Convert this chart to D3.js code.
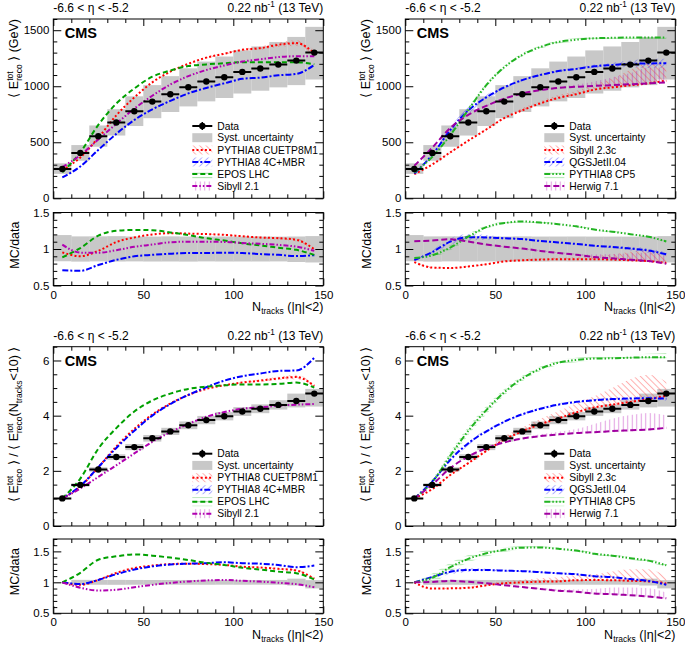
<!DOCTYPE html>
<html><head><meta charset="utf-8">
<script src="https://cdn.jsdelivr.net/npm/d3@7"></script>
<style>body{margin:0;background:#fff}svg text{font-family:'Liberation Sans',Arial,Helvetica,sans-serif}</style>
</head><body><svg id="c" width="685" height="646"></svg>
<script>
// ---------------- DATA ----------------
const nTracks = [5,15,25,35,45,55,65,75,85,95,105,115,125,135,145];
const binLo   = [0,10,20,30,40,50,60,70,80,90,100,110,120,130,140];
const binHi   = [10,20,30,40,50,60,70,80,90,100,110,120,130,140,150];
const xTicks = [0,50,100,150];
const absYTicks = [0,500,1000,1500];
const normYTicks = [0,2,4,6];
const ratioTicks = [0.5,1,1.5];

// <E_reco^tot> (GeV)
const dataAbs    = [262,405,554,676,777,863,929,991,1042,1080,1128,1158,1193,1229,1300];
const systAbsLo  = [218,335,460,560,645,715,770,820,865,895,935,960,990,1010,1060];
const systAbsHi  = [312,475,650,795,910,1010,1090,1160,1220,1265,1320,1355,1395,1440,1530];

const cuetp8m1Abs    = [250,365,540,740,900,1035,1130,1200,1255,1290,1325,1340,1370,1385,1295];
const cuetp8m1AbsErr = [0,0,0,0,0,0,0,0,5,8,10,15,20,25,25];
const mbr4cAbs       = [186,284,432,575,699,794,869,936,985,1026,1066,1077,1098,1110,1190];
const eposAbs        = [232,410,655,845,980,1085,1140,1180,1195,1205,1215,1215,1215,1215,1195];
const sibyll21Abs    = [278,385,525,665,800,915,1015,1090,1145,1185,1220,1240,1260,1268,1268];

const sibyll23cAbs      = [215,302,410,514,614,716,785,847,896,929,970,990,1008,1026,1050];
const sibyll23cAbsErrUp = [0,5,5,5,10,15,20,20,25,30,50,80,140,180,140];
const sibyll23cAbsErrDn = [0,5,5,5,5,5,5,5,5,5,5,5,5,5,5];
const qgsjetAbs         = [222,388,610,785,900,990,1055,1100,1135,1155,1178,1190,1200,1203,1205];
const qgsjetAbsErr      = [0,10,25,30,25,15,10,10,10,10,15,20,30,40,40];
const cp5Abs            = [230,370,565,790,1010,1170,1280,1350,1395,1415,1428,1432,1435,1435,1435];
const cp5AbsErr         = [0,10,20,25,20,15,15,15,15,15,15,15,15,15,15];
const herwigAbs         = [290,452,628,745,825,890,935,965,985,995,1003,1010,1018,1026,1035];
const herwigAbsErrUp    = [0,0,0,5,5,5,5,10,10,20,40,70,100,140,130];
const herwigAbsErrDn    = [0,0,0,5,5,5,5,5,5,5,5,5,5,5,5];

// <E_reco^tot> / <E_reco^tot(N_tracks<10)>
const dataNorm   = [1.0,1.49,2.05,2.50,2.86,3.18,3.43,3.65,3.84,3.98,4.15,4.25,4.39,4.53,4.80];
const systNormLo = [0.995,1.43,1.97,2.40,2.75,3.06,3.30,3.51,3.69,3.83,3.99,4.09,4.22,4.30,4.33];
const systNormHi = [1.005,1.55,2.13,2.60,2.97,3.30,3.56,3.79,3.99,4.13,4.31,4.41,4.56,4.80,4.97];

const cuetp8m1Norm    = [1.0,1.43,2.13,2.88,3.52,4.04,4.44,4.75,4.97,5.10,5.20,5.27,5.35,5.40,5.08];
const cuetp8m1NormErr = [0,0,0,0,0,0,0,0,0,0,0.03,0.05,0.06,0.08,0.06];
const mbr4cNorm       = [1.0,1.45,2.13,2.83,3.45,4.00,4.42,4.75,5.03,5.27,5.43,5.53,5.62,5.64,6.10];
const eposNorm        = [1.0,1.72,2.80,3.55,4.15,4.55,4.80,4.97,5.05,5.10,5.13,5.13,5.15,5.20,5.02];
const sibyll21Norm    = [1.0,1.36,1.78,2.20,2.63,3.05,3.40,3.70,3.96,4.13,4.25,4.30,4.36,4.40,4.42];

const sibyll23cNorm      = [1.0,1.34,1.85,2.28,2.72,3.13,3.43,3.69,3.90,4.12,4.30,4.40,4.50,4.60,4.72];
const sibyll23cNormErrUp = [0,0,0.02,0.05,0.08,0.12,0.15,0.2,0.26,0.33,0.4,0.6,0.82,0.88,0.5];
const sibyll23cNormErrDn = [0,0,0.02,0.03,0.03,0.04,0.04,0.05,0.05,0.05,0.05,0.05,0.05,0.05,0.05];
const qgsjetNorm         = [1.0,1.62,2.40,3.00,3.43,3.78,4.05,4.25,4.40,4.50,4.56,4.60,4.62,4.63,4.62];
const qgsjetNormErr      = [0,0.03,0.08,0.08,0.06,0.05,0.05,0.05,0.05,0.05,0.05,0.06,0.06,0.07,0.07];
const cp5Norm            = [1.0,1.60,2.55,3.45,4.20,4.85,5.35,5.70,5.92,6.02,6.07,6.08,6.10,6.12,6.12];
const cp5NormErr         = [0,0.1,0.15,0.15,0.15,0.12,0.1,0.08,0.08,0.08,0.08,0.08,0.1,0.12,0.15];
const herwigNorm         = [1.0,1.50,2.10,2.52,2.82,3.03,3.17,3.26,3.32,3.37,3.40,3.44,3.47,3.50,3.56];
const herwigNormErrUp    = [0,0,0,0,0.02,0.03,0.05,0.07,0.1,0.15,0.3,0.45,0.55,0.6,0.45];
const herwigNormErrDn    = [0,0,0,0,0.02,0.02,0.03,0.03,0.03,0.03,0.04,0.04,0.04,0.04,0.04];

// ---------------- STYLE ----------------
const svg = d3.select("#c");
const defs = svg.append("defs");
function hatch(id, color, angle, sp){
  const p = defs.append("pattern").attr("id",id).attr("patternUnits","userSpaceOnUse")
    .attr("width",sp).attr("height",sp).attr("patternTransform",`rotate(${angle})`);
  p.append("line").attr("x1",sp/2).attr("y1",0).attr("x2",sp/2).attr("y2",sp).attr("stroke",color).attr("stroke-width",1);
}
hatch("hRed","rgba(255,60,60,0.42)",-45,4.5);
hatch("hBlue","rgba(60,60,255,0.42)",45,4.5);
hatch("hGreen","rgba(0,160,0,0.4)",90,4.5);
hatch("hGreen2","rgba(40,190,40,0.4)",90,4.5);
hatch("hMag","rgba(180,0,180,0.38)",0,4.5);

const styles = {
  "PYTHIA8 CUETP8M1": {color:"#ff0000", dash:"2,2.2", hatch:"hRed"},
  "PYTHIA8 4C+MBR":   {color:"#0000ff", dash:"6,2,2,2", hatch:"hBlue"},
  "EPOS LHC":         {color:"#00a000", dash:"5,3", hatch:"hGreen"},
  "Sibyll 2.1":       {color:"#b000b0", dash:"5,2,1.5,2,1.5,2", hatch:"hMag"},
  "Sibyll 2.3c":      {color:"#ff0000", dash:"2,2.2", hatch:"hRed"},
  "QGSJetII.04":      {color:"#0000ff", dash:"6,2,2,2", hatch:"hBlue"},
  "PYTHIA8 CP5":      {color:"#22b422", dash:"6,2,1.5,2,1.5,2,1.5,2", hatch:"hGreen2"},
  "Herwig 7.1":       {color:"#a000a0", dash:"6,3", hatch:"hMag"}
};

const W = 270;
const panels = [
  {left:53.3, mainTop:19, mainBot:198.3, mainMax:1600, rTop:212.5, rBot:285.5, rMax:1.5,
   data:dataAbs, lo:systAbsLo, hi:systAbsHi, yTicks:absYTicks, yMinor:100, norm:false,
   models:[["PYTHIA8 CUETP8M1",cuetp8m1Abs,cuetp8m1AbsErr,cuetp8m1AbsErr],["PYTHIA8 4C+MBR",mbr4cAbs],["EPOS LHC",eposAbs],["Sibyll 2.1",sibyll21Abs]]},
  {left:405.3, mainTop:19, mainBot:198.3, mainMax:1600, rTop:212.5, rBot:285.5, rMax:1.5,
   data:dataAbs, lo:systAbsLo, hi:systAbsHi, yTicks:absYTicks, yMinor:100, norm:false,
   models:[["Sibyll 2.3c",sibyll23cAbs,sibyll23cAbsErrUp,sibyll23cAbsErrDn],["QGSJetII.04",qgsjetAbs,qgsjetAbsErr,qgsjetAbsErr],["PYTHIA8 CP5",cp5Abs,cp5AbsErr,cp5AbsErr],["Herwig 7.1",herwigAbs,herwigAbsErrUp,herwigAbsErrDn]]},
  {left:53.3, mainTop:346.7, mainBot:526, mainMax:6.5, rTop:539, rBot:613.3, rMax:1.7,
   data:dataNorm, lo:systNormLo, hi:systNormHi, yTicks:normYTicks, yMinor:0.5, norm:true,
   models:[["PYTHIA8 CUETP8M1",cuetp8m1Norm,cuetp8m1NormErr,cuetp8m1NormErr],["PYTHIA8 4C+MBR",mbr4cNorm],["EPOS LHC",eposNorm],["Sibyll 2.1",sibyll21Norm]]},
  {left:405.3, mainTop:346.7, mainBot:526, mainMax:6.5, rTop:539, rBot:613.3, rMax:1.7,
   data:dataNorm, lo:systNormLo, hi:systNormHi, yTicks:normYTicks, yMinor:0.5, norm:true,
   models:[["Sibyll 2.3c",sibyll23cNorm,sibyll23cNormErrUp,sibyll23cNormErrDn],["QGSJetII.04",qgsjetNorm,qgsjetNormErr,qgsjetNormErr],["PYTHIA8 CP5",cp5Norm,cp5NormErr,cp5NormErr],["Herwig 7.1",herwigNorm,herwigNormErrUp,herwigNormErrDn]]}
];

// rich text helper: parts = strings or {sub}, {sup}, {stack:[sup,sub]}
function rich(t, parts, fs, subShift){
  const small = fs*0.68, ss = subShift || 0.3;
  let pendDy = 0, pendDx = 0;
  parts.forEach(p=>{
    if (typeof p === "string"){
      const s = t.append("tspan").text(p);
      if (pendDy) s.attr("dy",pendDy); if (pendDx) s.attr("dx",pendDx);
      pendDy = 0; pendDx = 0;
    } else if (p.sub){
      const s = t.append("tspan").attr("font-size",small).attr("dy",pendDy+fs*ss).text(p.sub);
      if (pendDx) s.attr("dx",pendDx); pendDx=0; pendDy = -fs*ss;
    } else if (p.sup){
      const s = t.append("tspan").attr("font-size",small).attr("dy",pendDy-fs*0.38).text(p.sup);
      if (pendDx) s.attr("dx",pendDx); pendDx=0; pendDy = fs*0.38;
    } else if (p.stack){
      const a = t.append("tspan").attr("font-size",small).attr("dy",pendDy+fs*0.32).text(p.stack[1]);
      if (pendDx) a.attr("dx",pendDx);
      const la = a.node().getComputedTextLength();
      const b = t.append("tspan").attr("font-size",small).attr("dx",-la).attr("dy",-fs*0.32-fs*0.42).text(p.stack[0]);
      const lb = b.node().getComputedTextLength();
      pendDx = Math.max(la,lb)-lb; pendDy = fs*0.42;
    }
  });
}

const xMinor = d3.range(0,151,10).filter(v=>v%50!==0);

function drawAxes(g, x, y, top, bot, left, right, yMaj, yMin, xLabels, yFmt){
  const tickFs = 11.5;
  const add = (axis, tr)=>{
    const a = g.append("g").attr("transform",tr).call(axis);
    a.select(".domain").remove();
    a.selectAll("line").attr("stroke","#000");
    a.selectAll("text").attr("font-size",tickFs).attr("fill","#000").attr("font-family","'Liberation Sans',Arial,sans-serif");
    a.attr("font-size",null).attr("font-family",null);
  };
  add(d3.axisLeft(y).tickValues(yMaj).tickSize(-8).tickPadding(4).tickFormat(yFmt), `translate(${left},0)`);
  add(d3.axisLeft(y).tickValues(yMin).tickSize(-4).tickFormat(""), `translate(${left},0)`);
  add(d3.axisRight(y).tickValues(yMaj).tickSize(-8).tickFormat(""), `translate(${right},0)`);
  add(d3.axisRight(y).tickValues(yMin).tickSize(-4).tickFormat(""), `translate(${right},0)`);
  add(d3.axisBottom(x).tickValues(xTicks).tickSize(-7).tickPadding(5).tickFormat(xLabels?d3.format("d"):""), `translate(0,${bot})`);
  add(d3.axisBottom(x).tickValues(xMinor).tickSize(-4).tickFormat(""), `translate(0,${bot})`);
  add(d3.axisTop(x).tickValues(xTicks).tickSize(-7).tickFormat(""), `translate(0,${top})`);
  add(d3.axisTop(x).tickValues(xMinor).tickSize(-4).tickFormat(""), `translate(0,${top})`);
  g.append("rect").attr("x",left).attr("y",top).attr("width",right-left).attr("height",bot-top)
    .attr("fill","none").attr("stroke","#000").attr("stroke-width",1);
}

panels.forEach((p,pi)=>{
  const g = svg.append("g");
  const x = d3.scaleLinear().domain([0,150]).range([p.left,p.left+W]);
  const y = d3.scaleLinear().domain([0,p.mainMax]).range([p.mainBot,p.mainTop]);
  const yr = d3.scaleLinear().domain([0.5,p.rMax]).range([p.rBot,p.rTop]);
  const idx = d3.range(nTracks.length);
  const zeros = idx.map(()=>0);

  const cm = "cm"+pi, cr = "cr"+pi;
  defs.append("clipPath").attr("id",cm).append("rect").attr("x",p.left).attr("y",p.mainTop).attr("width",W).attr("height",p.mainBot-p.mainTop);
  defs.append("clipPath").attr("id",cr).append("rect").attr("x",p.left).attr("y",p.rTop).attr("width",W).attr("height",p.rBot-p.rTop);

  // ---- main ----
  const gm = g.append("g").attr("clip-path",`url(#${cm})`);
  gm.selectAll(null).data(idx).join("rect")
    .attr("x",i=>x(binLo[i])).attr("width",i=>x(binHi[i])-x(binLo[i]))
    .attr("y",i=>y(p.hi[i])).attr("height",i=>y(p.lo[i])-y(p.hi[i])).attr("fill","#c8c8c8");
  const curve = d3.curveMonotoneX;
  p.models.forEach(([name,vals,eu,ed])=>{
    const st = styles[name];
    eu = eu||zeros; ed = ed||zeros;
    gm.append("path").datum(idx).attr("fill",`url(#${st.hatch})`)
      .attr("d", d3.area().curve(curve).x(i=>x(nTracks[i])).y0(i=>y(vals[i]-ed[i])).y1(i=>y(vals[i]+eu[i])));
    gm.append("path").datum(idx).attr("fill","none").attr("stroke",st.color).attr("stroke-width",2)
      .attr("stroke-dasharray",st.dash)
      .attr("d", d3.line().curve(curve).x(i=>x(nTracks[i])).y(i=>y(vals[i])));
  });
  gm.selectAll(null).data(idx).join("line")
    .attr("x1",i=>x(binLo[i])).attr("x2",i=>x(binHi[i])).attr("y1",i=>y(p.data[i])).attr("y2",i=>y(p.data[i]))
    .attr("stroke","#000").attr("stroke-width",2);
  gm.selectAll(null).data(idx).join("circle")
    .attr("cx",i=>x(nTracks[i])).attr("cy",i=>y(p.data[i])).attr("r",3.2).attr("fill","#000");
  drawAxes(g,x,y,p.mainTop,p.mainBot,p.left,p.left+W,p.yTicks,
    d3.range(0,p.mainMax+1e-9,p.yMinor).filter(v=>!p.yTicks.some(t=>Math.abs(t-v)<1e-9)), false, d3.format("~g"));

  // ---- ratio ----
  const gr = g.append("g").attr("clip-path",`url(#${cr})`);
  gr.selectAll(null).data(idx).join("rect")
    .attr("x",i=>x(binLo[i])).attr("width",i=>x(binHi[i])-x(binLo[i])+0.3)
    .attr("y",i=>yr(p.hi[i]/p.data[i])).attr("height",i=>yr(p.lo[i]/p.data[i])-yr(p.hi[i]/p.data[i])).attr("fill","#c8c8c8");
  p.models.forEach(([name,vals,eu,ed])=>{
    const st = styles[name];
    eu = eu||zeros; ed = ed||zeros;
    gr.append("path").datum(idx).attr("fill",`url(#${st.hatch})`)
      .attr("d", d3.area().curve(curve).x(i=>x(nTracks[i])).y0(i=>yr((vals[i]-ed[i])/p.data[i])).y1(i=>yr((vals[i]+eu[i])/p.data[i])));
    gr.append("path").datum(idx).attr("fill","none").attr("stroke",st.color).attr("stroke-width",2)
      .attr("stroke-dasharray",st.dash)
      .attr("d", d3.line().curve(curve).x(i=>x(nTracks[i])).y(i=>yr(vals[i]/p.data[i])));
  });
  drawAxes(g,x,yr,p.rTop,p.rBot,p.left,p.left+W,ratioTicks,
    d3.range(5,Math.round(p.rMax*10)+1).map(v=>v/10).filter(v=>!ratioTicks.some(t=>Math.abs(t-v)<1e-9)), true, d3.format("~g"));

  // ---- texts ----
  g.append("text").attr("x",p.left).attr("y",p.mainTop-7).attr("font-size",12).text("-6.6 < η < -5.2");
  const rt = g.append("text").attr("x",p.left+W).attr("y",p.mainTop-7).attr("font-size",12).attr("text-anchor","end");
  rich(rt,["0.22 nb",{sup:"-1"}," (13 TeV)"],12);
  g.append("text").attr("x",p.left+11.5).attr("y",p.mainTop+19).attr("font-size",14.5).attr("font-weight","bold").text("CMS");

  const yt = g.append("text").attr("text-anchor","end").attr("font-size",12.5)
    .attr("transform",`translate(${p.left-35},${p.mainTop}) rotate(-90)`);
  if (!p.norm) rich(yt,["⟨ E",{stack:["tot","reco"]}," ⟩ (GeV)"],12.5);
  else rich(yt,["⟨ E",{stack:["tot","reco"]}," ⟩ / ⟨ E",{stack:["tot","reco"]},"(N",{sub:"tracks"},"<10) ⟩"],12.5);
  g.append("text").attr("text-anchor","end").attr("font-size",12.5)
    .attr("transform",`translate(${p.left-34},${p.rTop+9}) rotate(-90)`).text("MC/data");
  const xt = g.append("text").attr("text-anchor","end").attr("font-size",12.5)
    .attr("x",p.left+W).attr("y",p.rBot+25.5);
  rich(xt,["N",{sub:"tracks"}," (|η|<2)"],12.5,0.24);

  // ---- legend ----
  const lx = p.left+139, tx = p.left+164;
  const rows = [107,118.7,131,143,155,167].map(v=>p.mainTop+v);
  const lg = g.append("g");
  lg.append("line").attr("x1",lx).attr("x2",lx+20).attr("y1",rows[0]).attr("y2",rows[0]).attr("stroke","#000").attr("stroke-width",2);
  lg.append("line").attr("x1",lx+10).attr("x2",lx+10).attr("y1",rows[0]-4).attr("y2",rows[0]+4).attr("stroke","#000").attr("stroke-width",1.5);
  lg.append("circle").attr("cx",lx+10).attr("cy",rows[0]).attr("r",3.2).attr("fill","#000");
  lg.append("rect").attr("x",lx).attr("y",rows[1]-4.5).attr("width",20).attr("height",9).attr("fill","#c8c8c8");
  const labels = ["Data","Syst. uncertainty"].concat(p.models.map(m=>m[0]));
  p.models.forEach(([name],k)=>{
    const st = styles[name], yy = rows[k+2];
    lg.append("rect").attr("x",lx).attr("y",yy-4.5).attr("width",20).attr("height",9).attr("fill",`url(#${st.hatch})`);
    lg.append("line").attr("x1",lx).attr("x2",lx+20).attr("y1",yy).attr("y2",yy).attr("stroke",st.color)
      .attr("stroke-width",2).attr("stroke-dasharray",st.dash);
  });
  labels.forEach((l,k)=>lg.append("text").attr("x",tx).attr("y",rows[k]+3.7).attr("font-size",10.3).text(l));
});
</script></body></html>
